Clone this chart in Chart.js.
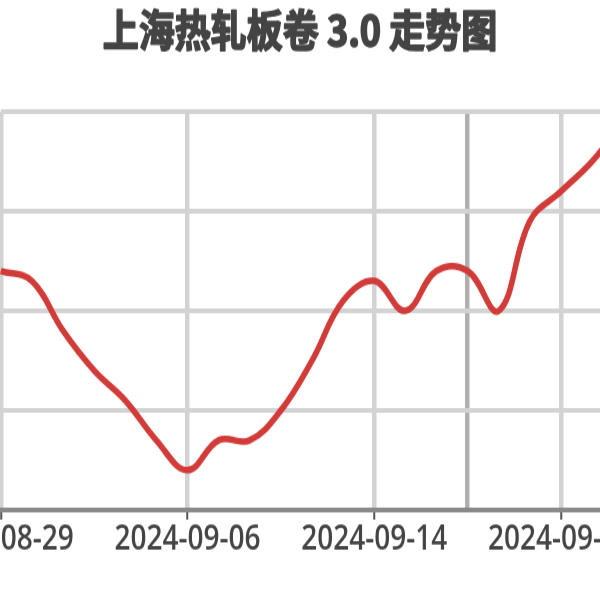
<!DOCTYPE html>
<html>
<head>
<meta charset="utf-8">
<script src="https://cdn.jsdelivr.net/npm/chart.js@4"></script>
<style>
  html, body { margin: 0; padding: 0; width: 600px; height: 600px; overflow: hidden; background: #fff; }
  /* the reference is a vertically stretched crop of a wider chart */
  #wrap { position: absolute; left: -2px; top: 0; width: 628px; height: 500px;
          transform: scaleY(1.2); transform-origin: 0 0; }
</style>
</head>
<body>
<div id="wrap"><canvas id="line-chart"></canvas></div>
<script>
var dates = ['2024-08-29','2024-08-30','2024-09-02','2024-09-03','2024-09-04','2024-09-05','2024-09-06',
             '2024-09-09','2024-09-10','2024-09-11','2024-09-12','2024-09-13','2024-09-14',
             '2024-09-18','2024-09-19','2024-09-20','2024-09-23','2024-09-24','2024-09-25','2024-09-26','2024-09-27'];
var prices = [3240,3230,3180,3140,3110,3070,3040,
              3070,3070,3100,3150,3210,3230,
              3200,3240,3240,3200,3290,3320,3350,3390];
var titleText = '上海热轧板卷 3.0 走势图';
var labelEvery = 6;
var markIndex = 15;

// title drawn centred on the visible page (the canvas is wider than the page)
var pageTitle = {
  id: 'pageTitle',
  afterDraw: function(chart) {
    var ctx = chart.ctx;
    ctx.save();
    ctx.font = 'bold 36px "Noto Sans CJK SC", sans-serif';
    ctx.fillStyle = '#444';
    ctx.strokeStyle = '#444';
    ctx.lineWidth = 1.6;
    ctx.lineJoin = 'round';
    ctx.textAlign = 'center';
    ctx.textBaseline = 'middle';
    ctx.fillText(titleText, 302, 25);
    ctx.strokeText(titleText, 302, 25);
    ctx.restore();
  }
};

new Chart(document.getElementById("line-chart"), {
  type: 'line',
  data: {
    labels: dates,
    datasets: [{
      data: prices,
      label: "上海热轧板卷 3.0",
      borderColor: "#d13b38",
      borderWidth: 5.5,
      tension: 0.4,
      pointRadius: 0,
      fill: false
    }]
  },
  options: {
    responsive: true,
    maintainAspectRatio: false,
    animation: false,
    layout: { padding: { left: 0, right: 0, top: 93, bottom: 15 } },
    plugins: {
      legend: { display: false },
      tooltip: { enabled: false },
      title: { display: false }
    },
    scales: {
      x: {
        grid: {
          color: function(c) {
            if (c.index === markIndex) return '#b0b0b0';
            return c.index % labelEvery === 0 ? '#d3d3d3' : 'transparent';
          },
          lineWidth: 4.5,
          tickColor: function(c) { return c.index % labelEvery === 0 ? '#555' : 'transparent'; },
          tickWidth: 2,
          tickLength: 8
        },
        border: { display: true, color: '#8a8a8a', width: 4 },
        ticks: {
          autoSkip: false,
          maxRotation: 0,
          padding: 0,
          color: '#444',
          font: { family: '"Open Sans", sans-serif', size: 28, weight: 600 },
          callback: function(v, i) { return i % labelEvery === 0 ? dates[i] : ''; }
        },
        afterFit: function(s) { s.paddingLeft = 0; s.paddingRight = 0; s.height = 60; }
      },
      y: {
        min: 3000,
        max: 3400,
        ticks: { display: false, stepSize: 100 },
        grid: {
          color: function(c) { return c.tick && c.tick.value === 3000 ? 'transparent' : '#d3d3d3'; },
          lineWidth: 4,
          drawTicks: false
        },
        border: { display: false },
        afterFit: function(s) { s.width = 0; }
      }
    }
  },
  plugins: [pageTitle]
});
</script>
</body>
</html>
